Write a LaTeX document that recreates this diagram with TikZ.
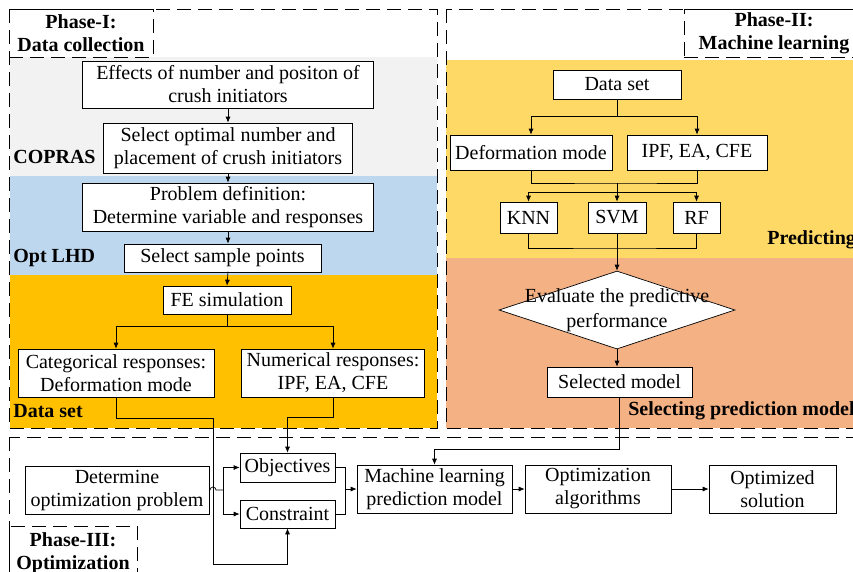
\documentclass[tikz,border=0pt]{standalone}
\usepackage{fontspec}
\setmainfont{Liberation Serif}
\usetikzlibrary{arrows.meta,shapes.geometric}

\definecolor{coprasgray}{HTML}{F2F2F2}
\definecolor{lhdblue}{HTML}{BDD7EE}
\definecolor{dataorange}{HTML}{FFC000}
\definecolor{predyellow}{HTML}{FFD966}
\definecolor{selsalmon}{HTML}{F4B183}

\begin{document}
\begin{tikzpicture}[x=1pt, y=-1pt, line width=0.7pt, >={Latex[length=6pt,width=5pt]},
    box/.style={draw, fill=white, align=center, inner sep=1pt, font=\fontsize{20}{23}\selectfont},
    phasebox/.style={draw, dash pattern=on 14pt off 7pt, line width=0.8pt},
    phaselabel/.style={phasebox, align=center, inner sep=0pt, font=\bfseries\fontsize{20}{23}\selectfont},
    bandlabel/.style={anchor=west, inner sep=0pt, font=\bfseries\fontsize{20}{23}\selectfont}]
    \path[use as bounding box] (0,0) rectangle (853,571);
    \clip (0,0) rectangle (853,571);
    % coloured bands
    \fill[coprasgray] (10,57) rectangle (437,176);
    \fill[lhdblue] (10,176) rectangle (437,275);
    \fill[dataorange] (10,275) rectangle (437,428);
    \fill[predyellow] (446,60) rectangle (870,258);
    \fill[selsalmon] (446,258) rectangle (870,428);
    % phase frames
    \draw[phasebox] (9,9) rectangle (437,428);
    \draw[phasebox] (446,9) rectangle (870,428);
    \draw[phasebox] (9,437) rectangle (870,600);
    \node[phaselabel, minimum width=144pt, minimum height=48pt] (ph1) at (81,33) {Phase-I:\\Data collection};
    \node[phaselabel, minimum width=180pt, minimum height=48pt] (ph2) at (774,33) {Phase-II:\\Machine learning};
    \node[phaselabel, minimum width=128pt, minimum height=54pt] (ph3) at (73,553) {Phase-III:\\Optimization};
    \node[bandlabel] (copras) at (13,157) {COPRAS};
    \node[bandlabel] (lhd) at (13,258) {Opt LHD};
    \node[bandlabel] (dset) at (13,411) {Data set};
    \node[bandlabel] (pred) at (767,240) {Predicting};
    \node[bandlabel] (selp) at (628,411) {Selecting prediction model};

    % Phase-I: data collection
    \node[box, minimum width=291pt, minimum height=47pt] (eff) at (228,84.5) {Effects of number and positon of\\crush initiators};
    \node[box, minimum width=249pt, minimum height=50pt] (sel) at (228,148) {Select optimal number and\\placement of crush initiators};
    \node[box, minimum width=291pt, minimum height=48pt] (prob) at (228,207) {Problem definition:\\Determine variable and responses};
    \node[box, minimum width=197pt, minimum height=28pt] (samp) at (222.5,258) {Select sample points};
    \node[box, minimum width=128pt, minimum height=28pt] (fe) at (227,300) {FE simulation};
    \node[box, minimum width=196pt, minimum height=48pt] (cat) at (116,373) {Categorical responses:\\Deformation mode};
    \node[box, minimum width=183pt, minimum height=48pt] (num) at (333,373) {Numerical responses:\\IPF, EA, CFE};
    \draw[->] (eff) -- (sel);
    \draw[->] (sel) -- (prob);
    \draw[->] (prob.south) -- (prob.south |- samp.north);
    \draw[->] (samp.north -| prob.south) ++(0,28) -- (fe.north);
    \draw[->] (fe.south) -- ++(0,12) -| (cat.north);
    \draw[->] (fe.south) -- ++(0,12) -| (num.north);

    % Phase-II: machine learning
    \node[box, minimum width=128pt, minimum height=29pt] (ds) at (617,84.5) {Data set};
    \node[box, minimum width=162pt, minimum height=35pt] (defm) at (531,152.5) {Deformation mode};
    \node[box, minimum width=140pt, minimum height=35pt] (ipf) at (697,152.5) {IPF, EA, CFE};
    \node[box, minimum width=57pt, minimum height=31pt] (knn) at (528.5,217.5) {KNN};
    \node[box, minimum width=58pt, minimum height=31pt] (svm) at (617,217.5) {SVM};
    \node[box, minimum width=47pt, minimum height=31pt] (rf) at (696.5,217.5) {RF};
    \node[diamond, draw, fill=white, minimum width=236pt, minimum height=78pt, inner sep=0pt] (eval) at (617,310) {};
    \node[align=center, font=\fontsize{20}{25}\selectfont] (evaltxt) at (eval) {Evaluate the predictive\\performance};
    \node[box, minimum width=145pt, minimum height=30pt] (selm) at (619.5,382) {Selected model};
    \coordinate (j1) at (617,183);
    \coordinate (j2) at (617,192);
    \coordinate (j3) at (617,248);
    \draw[->] (ds.south) -- ++(0,17) -| (defm.north);
    \draw[->] (ds.south) -- ++(0,17) -| (ipf.north);
    \draw (defm.south) |- (j1) -| (ipf.south);
    \draw (j1) -- (j2);
    \draw[->] (j2) -| (knn.north);
    \draw[->] (j2) -- (svm.north);
    \draw[->] (j2) -| (rf.north);
    \draw (knn.south) |- (j3) -| (rf.south);
    \draw (svm.south) -- (j3);
    \draw[->] (j3) -- (eval.north);
    \draw[->] (eval.south) -- (eval.south |- selm.north);

    % Phase-III: optimization
    \node[box, minimum width=184pt, minimum height=48pt] (det) at (117,490) {Determine\\optimization problem};
    \node[box, minimum width=95pt, minimum height=29pt] (obj) at (287.5,467.5) {Objectives};
    \node[box, minimum width=95pt, minimum height=28pt] (con) at (287.5,514) {Constraint};
    \node[box, minimum width=155pt, minimum height=48pt] (ml) at (434.5,489) {Machine learning\\prediction model};
    \node[box, minimum width=146pt, minimum height=48pt] (oa) at (598,489) {Optimization\\algorithms};
    \node[box, minimum width=127pt, minimum height=48pt] (os) at (772.5,489) {Optimized\\solution};
    \coordinate (spl) at (223,490);
    \coordinate (mrg) at (345,489);
    \coordinate (c1) at (213,418);
    \coordinate (c2) at (213,564);
    \draw (det.east) -- (210,490) arc[start angle=180, end angle=0, radius=3pt] -- (spl);
    \draw[->] (spl) |- (obj.west);
    \draw[->] (spl) |- (con.west);
    \draw (obj.east) -| (mrg);
    \draw (con.east) -| (mrg);
    \draw[->] (mrg) -- (ml.west);
    \draw[->] (ml) -- (oa);
    \draw[->] (oa) -- (os);
    \draw[->] (cat.south) |- (c1) -- (c2) -| (con.south);
    \draw[->] (num.south) -- ++(0,20) -| (obj.north);
    \draw[->] (selm.south) -- ++(0,52) -| (ml.north);
\end{tikzpicture}
\end{document}
